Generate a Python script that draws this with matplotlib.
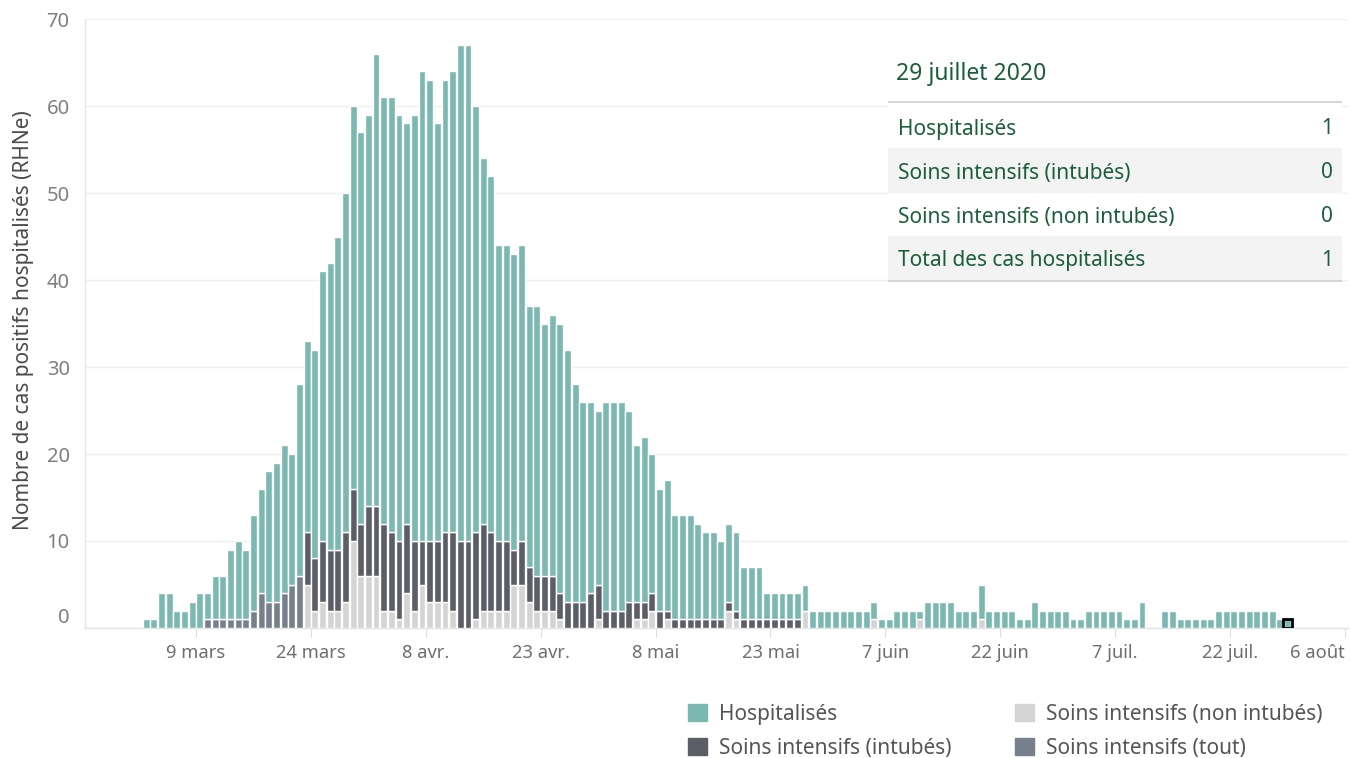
import matplotlib
matplotlib.use("Agg")
import matplotlib.pyplot as plt
import matplotlib.dates as mdates
from matplotlib.patches import Rectangle, Patch
import numpy as np
import pandas as pd

plt.rcParams['font.family'] = ['Noto Sans', 'DejaVu Sans']

# one bar per day, 2 mars -> 29 juillet 2020
dates = pd.date_range('2020-03-02', '2020-07-29', freq='D')

hospitalises = [
    1, 1, 4, 4, 2, 2, 3, 4,
    3, 5, 5, 8, 9, 8, 11, 12, 15, 16, 17, 15, 22,
    22, 24, 31, 33, 36, 39, 44, 45, 45, 52,
    49, 50, 49, 46, 49, 54, 53, 48, 52, 53,
    57, 57, 49, 42, 41, 34, 34, 34, 34, 30,
    31, 29, 30, 31, 29, 25, 23, 22, 20, 24,
    24, 24, 22, 18, 19, 16, 14, 15, 12, 12,
    12, 11, 10, 10, 9, 9, 9, 6, 6, 6,
    3, 3, 3, 3, 3, 3, 2, 2, 2, 2,
    2, 2, 2, 2, 2, 1, 1, 2, 2, 2,
    1, 3, 3, 3, 3, 2, 2, 2, 4, 2,
    2, 2, 2, 1, 1, 3, 2, 2, 2, 2,
    1, 1, 2, 2, 2, 2, 2, 1, 1, 3,
    0, 0, 2, 2, 1, 1, 1, 1, 1, 2,
    2, 2, 2, 2, 2, 2, 2, 1, 1,
]
si_intubes = [0] * 21 + [
    6, 6, 7, 7, 7, 8, 6, 6, 8, 8,
    10, 9, 9, 8, 8, 5, 7, 7, 8, 9,
    10, 10, 10, 10, 9, 8, 8, 4, 5, 4,
    4, 4, 4, 3, 3, 3, 3, 4, 4, 2,
    2, 2, 3, 2, 2, 2, 2, 1, 1, 1,
    1, 1, 1, 1, 1, 1, 1, 1, 1, 1,
    1, 1, 1, 1, 1,
] + [0] * 64
si_non_intubes = [0] * 21 + [
    5, 2, 3, 2, 2, 3, 10, 6, 6, 6,
    2, 2, 1, 4, 2, 5, 3, 3, 3, 2,
    0, 0, 1, 2, 2, 2, 2, 5, 5, 3,
    2, 2, 2, 1, 0, 0, 0, 0, 1, 0,
    0, 0, 0, 1, 1, 2, 0, 1, 0, 0,
    0, 0, 0, 0, 0, 2, 1, 0, 0, 0,
    0, 0, 0, 0, 0, 2, 0, 0, 0, 0,
    0, 0, 0, 0, 1, 0, 0, 0, 0, 0,
    1, 0, 0, 0, 0, 0, 0, 0, 1, 0,
] + [0] * 39
si_tout = [0] * 8 + [1, 1, 1, 1, 1, 1, 2, 4, 3, 3, 4, 5, 6] + [0] * 129

tick_dates = ['2020-03-09', '2020-03-24', '2020-04-08', '2020-04-23', '2020-05-08',
              '2020-05-23', '2020-06-07', '2020-06-22', '2020-07-07', '2020-07-22',
              '2020-08-06']
tick_labels = ['9 mars', '24 mars', '8 avr.', '23 avr.', '8 mai', '23 mai',
               '7 juin', '22 juin', '7 juil.', '22 juil.', '6 août']

table_date = '29 juillet 2020'
table_rows = ['Hospitalisés', 'Soins intensifs (intubés)',
              'Soins intensifs (non intubés)', 'Total des cas hospitalisés']
table_vals = [1, 0, 0, 1]

c_hosp = '#7ab8b1'
c_int = '#5b5e66'
c_nonint = '#d4d4d4'
c_tout = '#767f8b'
c_green = '#1b5e3b'

fig = plt.figure(figsize=(13.5, 7.58), dpi=100)
ax = fig.add_axes([85 / 1350, 1 - 628 / 758, 1263 / 1350, 609 / 758])

x = mdates.date2num(dates) + 0.5
h = np.array(hospitalises, float)
it = np.array(si_intubes, float)
ni = np.array(si_non_intubes, float)
to = np.array(si_tout, float)

bottom = np.zeros(len(x))
for vals, col in [(to, c_tout), (ni, c_nonint), (it, c_int), (h, c_hosp)]:
    m = vals > 0
    ax.bar(x[m], vals[m], bottom=bottom[m], width=0.9, color=col,
           edgecolor='white', linewidth=1.0, zorder=3)
    bottom = bottom + vals

# selected day (29 juillet)
ax.bar(x[-1], h[-1], width=1.2, facecolor='none', edgecolor='black',
       linewidth=2.0, zorder=4)

ax.set_ylim(0, 70)
ax.set_xlim(mdates.date2num(pd.Timestamp('2020-02-23')) + 0.5,
            mdates.date2num(pd.Timestamp('2020-08-06')) + 0.4)
ax.set_yticks(range(0, 71, 10))
ax.yaxis.grid(True, color='#efefef', linewidth=1.0, zorder=0)
ax.set_xticks([mdates.date2num(pd.Timestamp(d)) for d in tick_dates])
ax.set_xticklabels(tick_labels)
ax.tick_params(axis='x', length=6.5, color='#dedede', labelsize=13.2,
               labelcolor='#6f6f6f', pad=5)
ax.tick_params(axis='y', length=0, labelsize=14.5, labelcolor='#7f7f7f', pad=11)
ax.get_xticklabels()[-1].set_ha('right')
ax.get_yticklabels()[0].set_va('bottom')
for s in ['top', 'right']:
    ax.spines[s].set_visible(False)
for s in ['left', 'bottom']:
    ax.spines[s].set_color('#e4e4e4')
    ax.spines[s].set_linewidth(1.0)
ax.set_ylabel('Nombre de cas positifs hospitalisés (RHNe)', fontsize=15,
              color='#4a4a4a')
ax.yaxis.set_label_coords(-0.040, 0.505)

# info table at top right
tab = fig.add_axes([888 / 1350, 1 - 284 / 758, 454 / 1350, 234 / 758], zorder=5)
tab.set_xlim(888, 1342)
tab.set_ylim(284, 50)
tab.axis('off')
tab.add_patch(Rectangle((888, 50), 454, 234, color='white', zorder=0))
tab.text(896, 74, table_date, fontsize=16.5, color=c_green, va='center')
row_top = [104, 148, 192, 236]
for i, (lab, v) in enumerate(zip(table_rows, table_vals)):
    if i % 2 == 1:
        tab.add_patch(Rectangle((888, row_top[i]), 454, 44, color='#f3f3f3', zorder=1))
    tab.text(898, row_top[i] + 25, lab, fontsize=15, color=c_green, va='center', zorder=2)
    tab.text(1333, row_top[i] + 25, str(v), fontsize=15, color=c_green,
             va='center', ha='right', zorder=2)
tab.plot([888, 1342], [102, 102], color='#cfcfcf', linewidth=1.2, zorder=3)
tab.plot([888, 1342], [281, 281], color='#cfcfcf', linewidth=1.2, zorder=3)

handles = [Patch(color=c_hosp), Patch(color=c_int), Patch(color=c_nonint), Patch(color=c_tout)]
labels = ['Hospitalisés', 'Soins intensifs (intubés)',
          'Soins intensifs (non intubés)', 'Soins intensifs (tout)']
leg = fig.legend(handles, labels, ncol=2, loc='upper left',
                 bbox_to_anchor=(688 / 1350, 1 - 704 / 758), frameon=False,
                 fontsize=15, handlelength=0.9, handleheight=0.9,
                 handletextpad=0.58, labelspacing=0.62, columnspacing=3.07,
                 borderpad=0, borderaxespad=0)
for t in leg.get_texts():
    t.set_color('#555555')

fig.savefig('out.png', dpi=100)
